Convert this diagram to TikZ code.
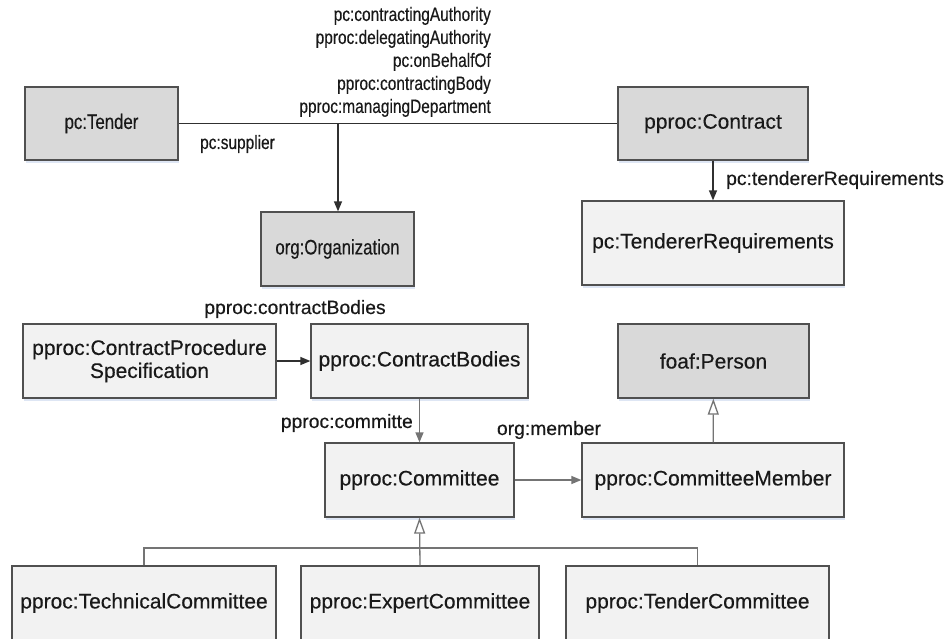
\documentclass[tikz,border=0pt]{standalone}
\usepackage{fontspec}
\setmainfont{Liberation Sans}[FakeBold=0.35]
\usetikzlibrary{arrows.meta,shadows}
\definecolor{darkfill}{HTML}{D9D9D9}
\definecolor{lightfill}{HTML}{F2F2F2}
\definecolor{boxedge}{HTML}{505050}
\definecolor{lowline}{HTML}{747474}
\definecolor{topline}{HTML}{303030}
\definecolor{shadowcol}{RGB}{222,230,244}
\newcommand{\narrowtxt}[1]{\scalebox{0.8}[1]{#1}}
\begin{document}
\begin{tikzpicture}[x=1pt,y=-1pt,
  cls/.style={rectangle, draw=boxedge, line width=1.3pt, inner sep=0pt,
    font=\fontsize{21}{23}\selectfont, text=black!90, align=center,
    drop shadow={shadow xshift=1pt, shadow yshift=-3pt, fill=shadowcol, opacity=1}},
  darkcls/.style={cls, fill=darkfill},
  lightcls/.style={cls, fill=lightfill},
  lbl/.style={inner sep=0pt, font=\fontsize{19.3}{23}\selectfont, text=black!90},
  assoc/.style={draw=topline, line width=1.3pt, -{Triangle[length=10pt,width=8pt]}},
  plainline/.style={draw=topline, line width=1.3pt},
  lowassoc/.style={draw=lowline, line width=1.3pt, -{Triangle[length=10pt,width=8pt]}},
  gen/.style={draw=lowline, line width=1.3pt, -{Triangle[length=16pt,width=11pt,fill=white]}},
  lowplain/.style={draw=lowline, line width=1.3pt}]
\useasboundingbox (0,0) rectangle (946,638);
\clip (0,0) rectangle (946,638);
\fill[white] (0,0) rectangle (946,638);

% classes
\node[darkcls, minimum width=153pt, minimum height=73pt] (tender) at (101.5,123.5) {\narrowtxt{pc:Tender}};
\node[darkcls, minimum width=190pt, minimum height=73pt] (contract) at (713,123.5) {pproc:Contract};
\node[darkcls, minimum width=153pt, minimum height=74pt] (org) at (337.5,249) {\narrowtxt{org:Organization}};
\node[lightcls, minimum width=262pt, minimum height=84pt] (treq) at (713,243) {pc:TendererRequirements};
\node[lightcls, minimum width=253pt, minimum height=74pt] (cps) at (149.5,361) {pproc:ContractProcedure\\Specification};
\node[lightcls, minimum width=217pt, minimum height=74pt] (cb) at (419.5,361) {pproc:ContractBodies};
\node[darkcls, minimum width=191pt, minimum height=74pt] (person) at (713.5,361) {foaf:Person};
\node[lightcls, minimum width=189pt, minimum height=74pt] (committee) at (419.5,480) {pproc:Committee};
\node[lightcls, minimum width=262pt, minimum height=74pt] (cmember) at (713,480) {pproc:CommitteeMember};
\node[lightcls, minimum width=264pt, minimum height=74pt] (tech) at (144,603) {pproc:TechnicalCommittee};
\node[lightcls, minimum width=238pt, minimum height=74pt] (expert) at (420,603) {pproc:ExpertCommittee};
\node[lightcls, minimum width=263pt, minimum height=74pt] (tendercom) at (697.5,603) {pproc:TenderCommittee};

% labels
\node[lbl, anchor=south east] (toplbl) at (491,120) {\narrowtxt{\begin{tabular}{@{}r@{}}pc:contractingAuthority\\ pproc:delegatingAuthority\\ pc:onBehalfOf\\ pproc:contractingBody\\ pproc:managingDepartment\end{tabular}}};
\node[lbl] (supplbl) at (237.5,144) {\narrowtxt{pc:supplier}};
\node[lbl, anchor=west] (treqlbl) at (726,180) {pc:tendererRequirements};
\node[lbl] (cblbl) at (295,309) {pproc:contractBodies};
\node[lbl, anchor=east] (comlbl) at (413,423) {pproc:committe};
\node[lbl] (memlbl) at (549,430) {org:member};

% connectors
\coordinate (j) at (338,123.5);
\draw[plainline] (tender) -- (contract);
\draw[assoc] (j) -- (j |- org.north);
\draw[assoc] (contract) -- (treq);
\draw[assoc] (cps) -- (cb);
\draw[lowassoc] (cb) -- (committee);
\draw[lowassoc] (committee) -- (cmember);
\draw[gen] (cmember) -- (person);
\coordinate (barmid) at (420,548);
\draw[lowplain] (tech.north) |- (barmid) -| (tendercom.north);
\draw[gen] (expert.north) -- (committee.south);
\end{tikzpicture}
\end{document}
